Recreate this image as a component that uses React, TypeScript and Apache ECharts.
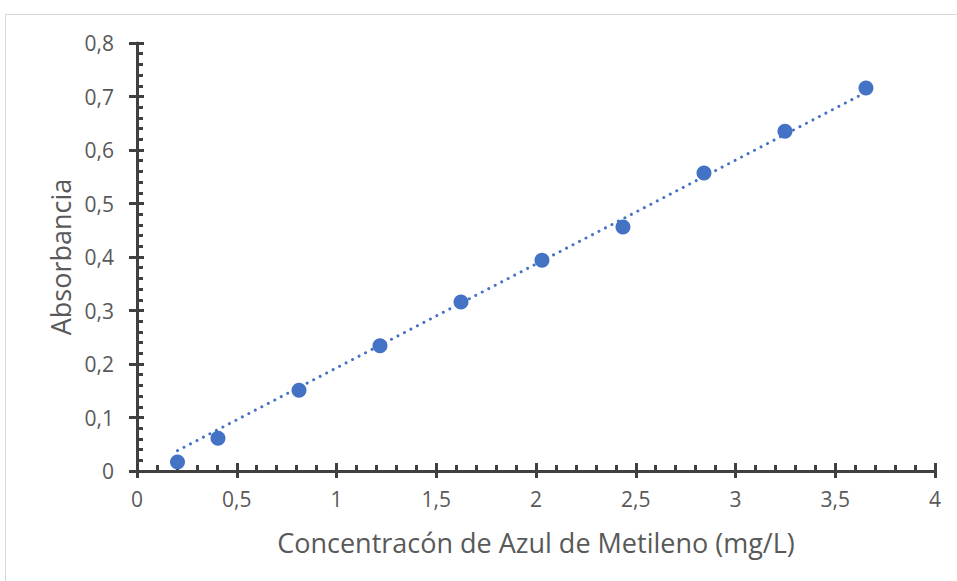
import React, { useEffect, useRef } from "react";
import * as echarts from "echarts";

const concentrations = [0.203, 0.406, 0.812, 1.218, 1.624, 2.03, 2.436, 2.842, 3.248, 3.654];
const absorbances = [0.017, 0.061, 0.151, 0.234, 0.316, 0.394, 0.456, 0.557, 0.635, 0.716];
// Linear trend line end points
const trendX = [0.203, 3.654];
const trendY = [0.038, 0.708];
const xTitle = "Concentracón de Azul de Metileno (mg/L)";
const yTitle = "Absorbancia";

const AXIS = "#404040";
const TEXT = "#595959";
const BLUE = "#4472C4";
const FONT = "'Open Sans', 'Noto Sans', sans-serif";

export default function App() {
  const ref = useRef<HTMLDivElement>(null);
  useEffect(() => {
    if (!ref.current) return;
    const chart = echarts.init(ref.current, null, { renderer: "svg" });
    const fmt = (v: number) => String(v).replace(".", ",");
    chart.setOption({
      animation: false,
      backgroundColor: "#ffffff",
      graphic: [
        {
          type: "rect",
          shape: { x: 5.5, y: 14.5, width: 1000, height: 700 },
          style: { fill: "none", stroke: "#d9d9d9", lineWidth: 1 },
          silent: true,
          z: -10,
        },
      ],
      grid: { left: 137, right: 22, top: 43, bottom: 110 },
      xAxis: [
        {
          type: "value",
          min: 0,
          max: 4,
          interval: 0.5,
          position: "bottom",
          axisLine: { show: true, onZero: false, lineStyle: { color: AXIS, width: 3 } },
          axisTick: { show: true, inside: true, length: 8, lineStyle: { color: AXIS, width: 3 } },
          minorTick: { show: true, splitNumber: 5, length: 6, lineStyle: { color: AXIS, width: 3 } },
          splitLine: { show: false },
          axisLabel: { color: TEXT, fontFamily: FONT, fontSize: 21, margin: 17, formatter: fmt },
          name: xTitle,
          nameLocation: "middle",
          nameGap: 58,
          nameTextStyle: { color: TEXT, fontFamily: FONT, fontSize: 27 },
        },
        {
          type: "value",
          min: 0,
          max: 4,
          interval: 0.5,
          position: "bottom",
          axisLine: { show: false, onZero: false },
          axisTick: { show: true, inside: false, length: 7, lineStyle: { color: AXIS, width: 3 } },
          axisLabel: { show: false },
          splitLine: { show: false },
        },
      ],
      yAxis: [
        {
          type: "value",
          min: 0,
          max: 0.8,
          interval: 0.1,
          position: "left",
          axisLine: { show: true, onZero: false, lineStyle: { color: AXIS, width: 3 } },
          axisTick: { show: true, inside: true, length: 7, lineStyle: { color: AXIS, width: 3 } },
          minorTick: { show: true, splitNumber: 5, length: 6, lineStyle: { color: AXIS, width: 3 } },
          splitLine: { show: false },
          axisLabel: { color: TEXT, fontFamily: FONT, fontSize: 21, margin: 23, formatter: fmt },
          name: yTitle,
          nameLocation: "middle",
          nameGap: 63,
          nameTextStyle: { color: TEXT, fontFamily: FONT, fontSize: 27 },
        },
        {
          type: "value",
          min: 0,
          max: 0.8,
          interval: 0.1,
          position: "left",
          axisLine: { show: false, onZero: false },
          axisTick: { show: true, inside: false, length: 8, lineStyle: { color: AXIS, width: 3 } },
          axisLabel: { show: false },
          splitLine: { show: false },
        },
      ],
      series: [
        {
          type: "line",
          xAxisIndex: 0,
          yAxisIndex: 0,
          data: trendX.map((x, i) => [x, trendY[i]]),
          showSymbol: false,
          symbol: "none",
          lineStyle: { color: BLUE, width: 3, type: [0.01, 7.3], cap: "round" },
          z: 2,
          silent: true,
        },
        {
          type: "scatter",
          xAxisIndex: 0,
          yAxisIndex: 0,
          data: concentrations.map((x, i) => [x, absorbances[i]]),
          symbol: "circle",
          symbolSize: 15,
          itemStyle: { color: BLUE, opacity: 1 },
          z: 3,
        },
      ],
    });
    return () => chart.dispose();
  }, []);
  return (
    <div
      ref={ref}
      style={{ position: "absolute", left: 0, top: 0, width: 957, height: 581 }}
    />
  );
}
